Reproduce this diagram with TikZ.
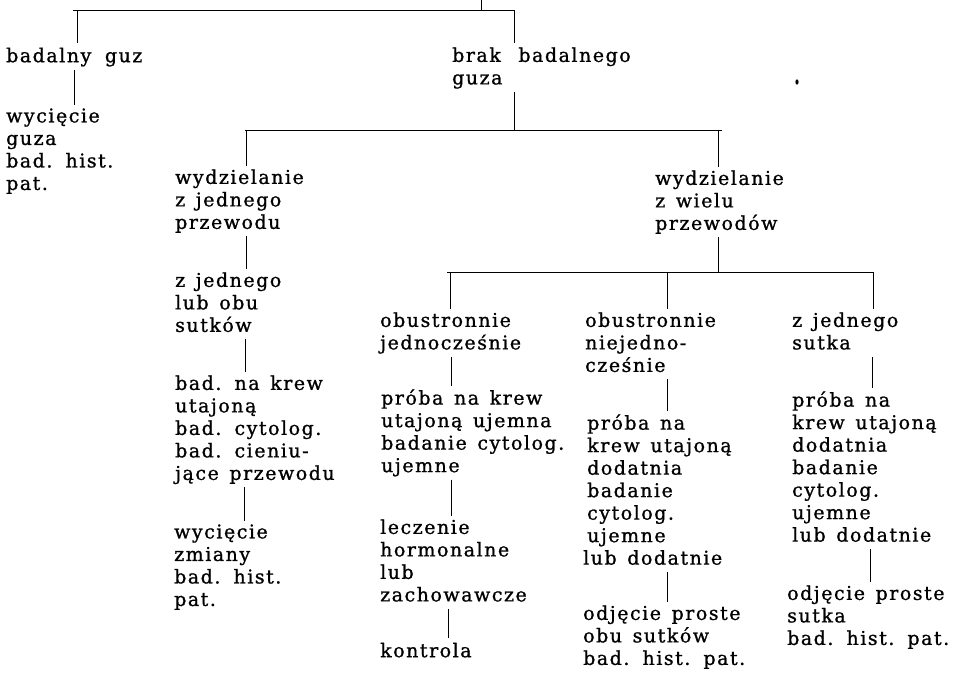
\documentclass[tikz,border=0pt]{standalone}
\usepackage{fontspec}
\setmainfont{DejaVu Serif}[LetterSpace=8,FakeBold=1,WordSpace=1.4]
\begin{document}
\begin{tikzpicture}[x=1pt,y=-1pt,
  lbl/.style={anchor=north west, inner sep=0pt, align=left,
    font=\fontsize{19}{22.5}\selectfont,
    execute at begin node=\strut, execute at end node=\strut},
  conn/.style={line width=0.8pt, shorten <=0.5pt, shorten >=3pt},
  bar/.style={line width=0.8pt}]
\useasboundingbox (0,0) rectangle (955,674);
% nodes (y = first baseline - 15.75)
\node[lbl] (A) at (6,46.25) {badalny\hspace{3pt} guz};
\node[lbl] (B) at (6,108.25) {wycięcie\\guza\\bad. hist.\\pat.};
\node[lbl] (C) at (452,47.25) {brak\hspace{7pt} badalnego\\guza};
\node[lbl] (D) at (175,169.25) {wydzielanie\\z jednego\\przewodu};
\node[lbl] (E) at (175,272.25) {z jednego\\lub obu\\sutków};
\node[lbl] (F) at (175,375.25) {bad. na krew\\utajoną\\bad. cytolog.\\bad. cieniu-\\jące przewodu};
\node[lbl] (G) at (174,524.25) {wycięcie\\zmiany\\bad. hist.\\pat.};
\node[lbl] (H) at (655,170.25) {wydzielanie\\z wielu\\przewodów};
\node[lbl] (I) at (380,312.25) {obustronnie\\jednocześnie};
\node[lbl] (J) at (381,389.25) {próba na krew\\utajoną ujemna\\badanie cytolog.\\ujemne};
\node[lbl] (K) at (380,519.25) {leczenie\\hormonalne\\lub\\zachowawcze};
\node[lbl] (L) at (380,641.25) {kontrola};
\node[lbl] (M) at (585,312.25) {obustronnie\\niejedno-\\cześnie};
\node[lbl] (N) at (587,414.25) {próba na\\krew utajoną\\dodatnia\\badanie\\cytolog.\\ujemne\\\hspace*{-4pt}lub dodatnie};
\node[lbl] (O) at (583,605.25) {odjęcie proste\\obu sutków\\bad. hist. pat.};
\node[lbl] (P) at (792,312.25) {z jednego\\sutka};
\node[lbl] (Q) at (792,391.25) {próba na\\krew utajoną\\dodatnia\\badanie\\cytolog.\\ujemne\\lub dodatnie};
\node[lbl] (R) at (787,585.25) {odjęcie proste\\sutka\\bad. hist. pat.};
% bars
\coordinate (top) at (481,0);
\coordinate (b1l) at (73,10);  \coordinate (b1r) at (515,10);
\coordinate (b2l) at (245,130); \coordinate (b2r) at (722,130);
\coordinate (b3l) at (447,272); \coordinate (b3r) at (874,272);
\draw[bar] (b1l) -- (b1r);
\draw[bar] (b2l) -- (b2r);
\draw[bar] (b3l) -- (b3r);
\draw[bar] (top) -- (top |- b1l);
% level 1
\draw[conn,shorten <=0pt] (77,0 |- b1l) -- (77,0 |- A.north);
\draw[conn] (74,0 |- A.south) -- (74,0 |- B.north);
\draw[conn,shorten <=0pt,shorten >=4pt] (514,0 |- b1l) -- (514,0 |- C.north);
\draw[conn,shorten >=0pt] (514,0 |- C.south) -- (514,0 |- b2l);
% level 2 left
\draw[conn,shorten <=0pt] (246,0 |- b2l) -- (246,0 |- D.north);
\draw[conn] (246,0 |- D.south) -- (246,0 |- E.north);
\draw[conn] (245,0 |- E.south) -- (245,0 |- F.north);
\draw[conn] (244,0 |- F.south) -- (244,0 |- G.north);
% level 2 right
\draw[conn,shorten <=0pt] (718,0 |- b2l) -- (718,0 |- H.north);
\draw[conn,shorten >=0pt] (718,0 |- H.south) -- (718,0 |- b3l);
% level 3
\draw[conn,shorten <=0pt] (450,0 |- b3l) -- (450,0 |- I.north);
\draw[conn] (451,0 |- I.south) -- (451,0 |- J.north);
\draw[conn] (451,0 |- J.south) -- (451,0 |- K.north);
\draw[conn] (448,0 |- K.south) -- (448,0 |- L.north);
\draw[conn,shorten <=0pt] (667,0 |- b3l) -- (667,0 |- M.north);
\draw[conn] (667,0 |- M.south) -- (667,0 |- N.north);
\draw[conn] (667,0 |- N.south) -- (667,0 |- O.north);
\draw[conn,shorten <=0pt] (873,0 |- b3l) -- (873,0 |- P.north);
\draw[conn] (872,0 |- P.south) -- (872,0 |- Q.north);
\draw[conn] (870,0 |- Q.south) -- (870,0 |- R.north);
% speck
\fill (797,82) ellipse (1.6 and 2.6);
\end{tikzpicture}
\end{document}
